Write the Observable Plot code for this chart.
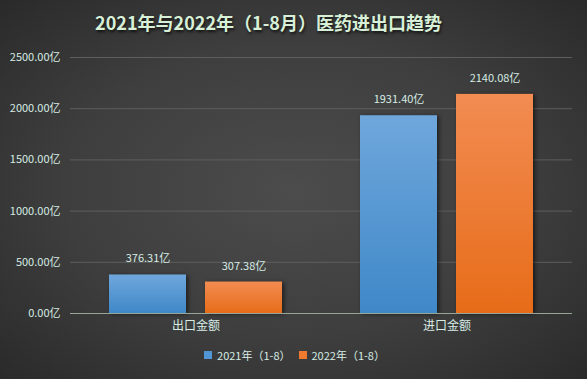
<!DOCTYPE html>
<html>
<head>
<meta charset="utf-8">
<script src="https://cdn.jsdelivr.net/npm/d3@7"></script>
<script src="https://cdn.jsdelivr.net/npm/@observablehq/plot@0.6"></script>
<style>
  html, body { margin: 0; padding: 0; }
  body {
    width: 587px; height: 379px; overflow: hidden;
    background: radial-gradient(ellipse at 50% 50%, #4c4c4c 0%, #3e3e3e 55%, #2a2a2a 100%);
    font-family: "Noto Sans CJK SC", "Noto Sans", sans-serif;
  }
  #title {
    height: 45px; line-height: 44px; text-align: center;
    font-size: 18px; font-weight: bold; color: #d8f0d8;
    text-shadow: 1px 2px 3px rgba(0,0,0,0.7);
    padding-right: 50px;
  }
  #legend {
    display: flex; justify-content: center; align-items: center;
    height: 30px; font-size: 11px; color: #d6ece4; gap: 8px;
    margin-left: 2px;
  }
  .item { display: flex; align-items: center; gap: 5px; }
  .sw { width: 8px; height: 8px; }
</style>
</head>
<body>
<div id="title">2021年与2022年（1-8月）医药进出口趋势</div>
<div id="chart"></div>
<div id="legend"></div>
<script>
const categories = ["出口金额", "进口金额"];
const series = ["2021年（1-8）", "2022年（1-8）"];
const values2021 = [376.31, 1931.40];
const values2022 = [307.38, 2140.08];
const yTicks = [0, 500, 1000, 1500, 2000, 2500];

const data = [];
categories.forEach((c, i) => {
  data.push({category: c, series: series[0], value: values2021[i]});
  data.push({category: c, series: series[1], value: values2022[i]});
});

const textColor = "#d6ece4";

const chart = Plot.plot({
  width: 587,
  height: 295,
  marginLeft: 70,
  marginRight: 15,
  marginTop: 12,
  marginBottom: 27,
  style: {background: "transparent", fontFamily: "'Noto Sans CJK SC', 'Noto Sans', sans-serif"},
  fx: {domain: categories, padding: 0, label: null},
  x: {domain: series, axis: null, paddingInner: 0.196, paddingOuter: 0.392},
  y: {domain: [0, 2500], axis: null},
  color: {type: "ordinal", domain: series, range: ["url(#gBlue)", "url(#gOrange)"]},
  marks: [
    Plot.gridY(yTicks, {stroke: "#5e5e5e", strokeOpacity: 1}),
    Plot.axisY(yTicks, {tickFormat: d => d.toFixed(2) + "亿", tickSize: 0, tickPadding: 10, fill: textColor, fontSize: 11, label: null}),
    Plot.axisFx({anchor: "bottom", tickSize: 0, tickPadding: 8, fill: textColor, fontSize: 12, label: null}),
    Plot.barY(data, {fx: "category", x: "series", y: "value", fill: "series"}),
    Plot.ruleY([0], {stroke: "#97a597", strokeWidth: 1.2}),
    Plot.text(data, {fx: "category", x: "series", y: "value", text: d => d.value.toFixed(2) + "亿", dy: -16, fill: textColor, fontSize: 11})
  ]
});

const svg = d3.select(chart);
const defs = svg.insert("defs", ":first-child");
function grad(id, top, bottom) {
  const g = defs.append("linearGradient").attr("id", id).attr("x1", 0).attr("y1", 0).attr("x2", 0).attr("y2", 1);
  g.append("stop").attr("offset", "0%").attr("stop-color", top);
  g.append("stop").attr("offset", "100%").attr("stop-color", bottom);
}
grad("gBlue", "#6fa7dc", "#3f88c8");
grad("gOrange", "#f28c52", "#e76c19");
svg.selectAll("g[aria-label='bar'] rect").attr("style", "filter: drop-shadow(2px 1px 2px rgba(0,0,0,0.55))");
document.getElementById("chart").appendChild(chart);

const legend = document.getElementById("legend");
const swColors = ["#5296d5", "#ee7a30"];
series.forEach((s, i) => {
  const it = document.createElement("div");
  it.className = "item";
  it.innerHTML = `<span class="sw" style="background:${swColors[i]}"></span><span>${s}</span>`;
  legend.appendChild(it);
});
</script>
</body>
</html>
